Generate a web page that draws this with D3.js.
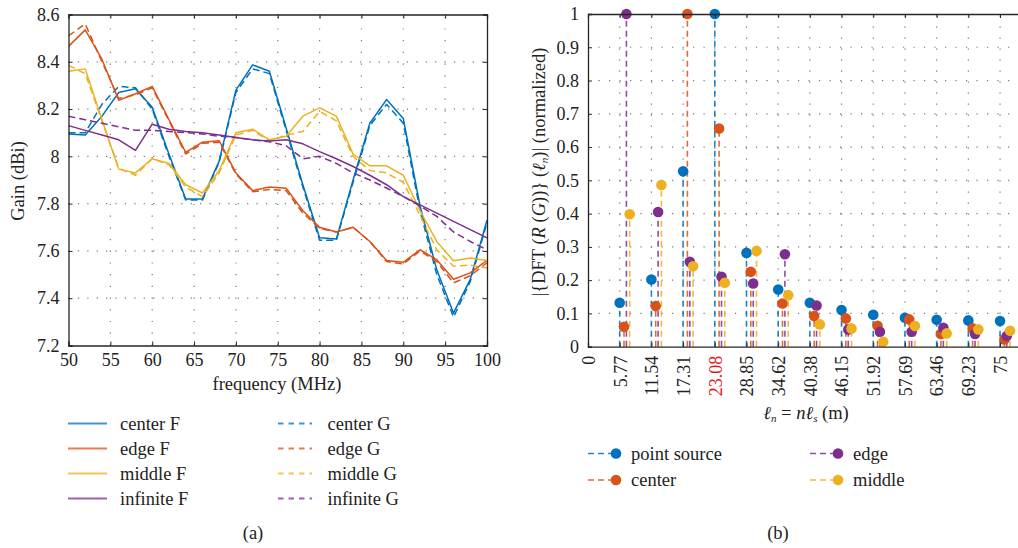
<!DOCTYPE html>
<html><head><meta charset="utf-8">
<script src="https://cdn.jsdelivr.net/npm/d3@7"></script>
<style>
body{margin:0;background:#fff;}
svg{display:block;}
svg text{font-family:"Liberation Serif","DejaVu Serif",serif;}
</style></head>
<body>
<svg id="c" width="1018" height="548"></svg>
<script>
// ---------- data: panel (a) ----------
const freq = [50,52,54,56,58,60,62,64,66,68,70,72,74,76,78,80,82,84,86,88,90,92,94,96,98,100];
const centerF = [8.095,8.09,8.17,8.27,8.286,8.208,8.01,7.82,7.82,7.98,8.28,8.387,8.36,8.12,7.88,7.656,7.65,7.90,8.14,8.24,8.16,7.79,7.52,7.337,7.48,7.73];
const centerG = [8.10,8.10,8.22,8.296,8.29,8.20,8.00,7.815,7.815,7.975,8.27,8.37,8.35,8.11,7.87,7.645,7.645,7.89,8.13,8.22,8.14,7.77,7.50,7.32,7.47,7.72];
const edgeF = [8.465,8.535,8.41,8.237,8.265,8.296,8.156,8.017,8.06,8.066,7.93,7.855,7.87,7.865,7.77,7.70,7.68,7.70,7.64,7.56,7.552,7.605,7.563,7.48,7.507,7.56];
const edgeG = [8.51,8.56,8.40,8.245,8.26,8.29,8.15,8.01,8.055,8.06,7.925,7.85,7.86,7.855,7.76,7.695,7.68,7.70,7.64,7.555,7.545,7.60,7.555,7.465,7.495,7.55];
const middleF = [8.36,8.37,8.155,7.946,7.93,7.99,7.97,7.88,7.845,7.94,8.10,8.115,8.07,8.085,8.17,8.205,8.17,8.01,7.96,7.96,7.92,7.77,7.64,7.558,7.57,7.56];
const middleG = [8.385,8.35,8.15,7.95,7.92,7.99,7.965,7.87,7.83,7.93,8.09,8.11,8.065,8.09,8.105,8.19,8.15,8.00,7.94,7.93,7.89,7.75,7.605,7.535,7.54,7.528];
const infiniteF = [8.13,8.11,8.09,8.07,8.025,8.136,8.115,8.105,8.10,8.09,8.08,8.07,8.065,8.07,8.053,8.02,7.99,7.957,7.92,7.88,7.83,7.795,7.76,7.725,7.69,7.655];
const infiniteG = [8.17,8.155,8.14,8.125,8.11,8.11,8.105,8.10,8.095,8.085,8.08,8.07,8.062,8.045,7.99,8.0,7.97,7.93,7.90,7.866,7.83,7.79,7.746,7.68,7.64,7.605];
const gainTicksX = [50,55,60,65,70,75,80,85,90,95,100];
const gainTicksY = [7.2,7.4,7.6,7.8,8,8.2,8.4,8.6];

// ---------- data: panel (b) ----------
const lengths = [5.77,11.54,17.31,23.08,28.85,34.62,40.38,46.15,51.92,57.69,63.46,69.23,75];
const lengthTickLabels = ["0","5.77","11.54","17.31","23.08","28.85","34.62","40.38","46.15","51.92","57.69","63.46","69.23","75"];
const pointSource = [0.132,0.202,0.527,1.0,0.282,0.172,0.132,0.110,0.096,0.087,0.081,0.079,0.077];
const centerB = [0.06,0.122,1.0,0.656,0.225,0.13,0.092,0.085,0.063,0.082,0.038,0.055,0.022];
const edgeB = [1.0,0.405,0.255,0.21,0.19,0.278,0.124,0.052,0.045,0.045,0.057,0.038,0.032];
const middleB = [0.398,0.486,0.242,0.192,0.288,0.155,0.067,0.055,0.015,0.062,0.04,0.052,0.048];
const seriesShift = [0,0.78,1.22,1.82]; // small ℓ offsets of each series
const normTicks = [0,0.1,0.2,0.3,0.4,0.5,0.6,0.7,0.8,0.9,1];

const C = {blue:"#0072BD", red:"#D95319", yellow:"#EDB120", purple:"#7E2F8E"};
const FONT = "Liberation Serif";
const svg = d3.select("#c");
const axisCol = "#262626", gridCol = "#777", textCol = "#222";

// ================= Panel (a) =================
const xa = d3.scaleLinear().domain([50,100]).range([68.5,487]);
const ya = d3.scaleLinear().domain([7.2,8.6]).range([345.5,14.5]);
const ga = svg.append("g");

ga.selectAll(".gx").data(gainTicksX.slice(1,-1)).join("line")
  .attr("x1",d=>xa(d)).attr("x2",d=>xa(d)).attr("y1",ya(7.2)).attr("y2",ya(8.6))
  .attr("stroke",gridCol).attr("stroke-width",1.2).attr("stroke-dasharray","1.2,10.5");
ga.selectAll(".gy").data(gainTicksY.slice(1,-1)).join("line")
  .attr("y1",d=>ya(d)).attr("y2",d=>ya(d)).attr("x1",xa(50)).attr("x2",xa(100))
  .attr("stroke",gridCol).attr("stroke-width",1.2).attr("stroke-dasharray","1.2,8.2");

const lineA = d3.line().x((d,i)=>xa(freq[i])).y(d=>ya(d));
const seriesA = [
  {v:centerF,c:C.blue,d:null,n:"center F"},{v:centerG,c:C.blue,d:"7,4",n:"center G"},
  {v:edgeF,c:C.red,d:null,n:"edge F"},{v:edgeG,c:C.red,d:"7,4",n:"edge G"},
  {v:middleF,c:C.yellow,d:null,n:"middle F"},{v:middleG,c:C.yellow,d:"7,4",n:"middle G"},
  {v:infiniteF,c:C.purple,d:null,n:"infinite F"},{v:infiniteG,c:C.purple,d:"7,4",n:"infinite G"}];
svg.append("clipPath").attr("id","ca").append("rect")
  .attr("x",xa(50)).attr("y",0).attr("width",xa(100)-xa(50)).attr("height",ya(7.2));
const la = ga.append("g").attr("clip-path","url(#ca)");
seriesA.forEach(s=>{
  la.append("path").attr("d",lineA(s.v)).attr("fill","none").attr("stroke",s.c)
    .attr("stroke-width",1.5).attr("stroke-dasharray",s.d).attr("stroke-linejoin","round");
});

const axL = d3.axisLeft(ya).tickValues(gainTicksY).tickSize(-4).tickPadding(9).tickFormat(d=>d3.format("")(+d.toFixed(1)));
const axB = d3.axisBottom(xa).tickValues(gainTicksX).tickSize(-4).tickPadding(8);
const axT = d3.axisTop(xa).tickValues(gainTicksX).tickSize(-4).tickFormat("");
const axR = d3.axisRight(ya).tickValues(gainTicksY).tickSize(-4).tickFormat("");
function styleAxis(g){
  g.attr("font-family",FONT).attr("font-size",18);
  g.select(".domain").attr("stroke",axisCol).attr("stroke-width",1.3);
  g.selectAll(".tick line").attr("stroke",axisCol);
  g.selectAll(".tick text").attr("fill",textCol);
}
ga.append("g").attr("transform",`translate(${xa(50)},0)`).call(axL).call(styleAxis);
ga.append("g").attr("transform",`translate(0,${ya(7.2)})`).call(axB).call(styleAxis);
ga.append("g").attr("transform",`translate(0,${ya(8.6)})`).call(axT).call(styleAxis);
ga.append("g").attr("transform",`translate(${xa(100)},0)`).call(axR).call(styleAxis);

ga.append("text").attr("transform","translate(24,181) rotate(-90)").attr("text-anchor","middle")
  .attr("font-family",FONT).attr("font-size",18.5).attr("fill",textCol).text("Gain (dBi)");
ga.append("text").attr("x",277).attr("y",390).attr("text-anchor","middle")
  .attr("font-family",FONT).attr("font-size",18.5).attr("fill",textCol).text("frequency (MHz)");

const legA = ga.append("g");
seriesA.forEach((s,i)=>{
  const col = i%2, row = Math.floor(i/2);
  const lx = col===0?68:278, tx = col===0?120:327.5, yy = 423.5+row*25;
  legA.append("line").attr("x1",lx).attr("x2",lx+(col===0?39:34)).attr("y1",yy).attr("y2",yy)
    .attr("stroke",s.c).attr("stroke-width",2).attr("opacity",0.75).attr("stroke-dasharray",s.d?"5.5,5":null);
  legA.append("text").attr("x",tx).attr("y",yy+6).attr("font-family",FONT).attr("font-size",18.5)
    .attr("fill",textCol).text(s.n);
});
ga.append("text").attr("x",253).attr("y",539).attr("text-anchor","middle").attr("font-family",FONT)
  .attr("font-size",18.5).attr("fill",textCol).text("(a)");

// ================= Panel (b) =================
const xb = d3.scaleLinear().domain([0,78.6]).range([588,588+78.6*31.7/5.77]);
const yb = d3.scaleLinear().domain([0,1]).range([346.7,14]);
const gb = svg.append("g");
const tickPos = [0].concat(lengths);

gb.selectAll(".gx").data(lengths).join("line")
  .attr("x1",d=>xb(d)).attr("x2",d=>xb(d)).attr("y1",yb(0)).attr("y2",yb(1))
  .attr("stroke",gridCol).attr("stroke-width",1.2).attr("stroke-dasharray","1.2,9.8");
gb.selectAll(".gy").data(normTicks.slice(1,-1)).join("line")
  .attr("y1",d=>yb(d)).attr("y2",d=>yb(d)).attr("x1",xb(0)).attr("x2",1018)
  .attr("stroke",gridCol).attr("stroke-width",1.2).attr("stroke-dasharray","1.2,9.3");

const seriesB = [
  {v:pointSource,c:C.blue,n:"point source"},{v:centerB,c:C.red,n:"center"},
  {v:edgeB,c:C.purple,n:"edge"},{v:middleB,c:C.yellow,n:"middle"}];
seriesB.forEach((s,k)=>{
  gb.append("g").selectAll("line").data(s.v).join("line")
    .attr("x1",(d,i)=>xb(lengths[i]+seriesShift[k])).attr("x2",(d,i)=>xb(lengths[i]+seriesShift[k]))
    .attr("y1",yb(0)).attr("y2",d=>yb(d))
    .attr("stroke",s.c).attr("stroke-width",1.6).attr("opacity",0.85).attr("stroke-dasharray","6,4");
});
seriesB.forEach((s,k)=>{
  gb.append("g").selectAll("circle").data(s.v).join("circle")
    .attr("cx",(d,i)=>xb(lengths[i]+seriesShift[k])).attr("cy",d=>yb(d)).attr("r",5.3).attr("fill",s.c);
});

const bL = d3.axisLeft(yb).tickValues(normTicks).tickSize(-4).tickPadding(9).tickFormat(d=>d3.format("")(+d.toFixed(1)));
const bB = d3.axisBottom(xb).tickValues(tickPos).tickSize(-4).tickFormat((d,i)=>lengthTickLabels[i]);
const bT = d3.axisTop(xb).tickValues(tickPos).tickSize(-4).tickFormat("");
gb.append("g").attr("transform",`translate(${xb(0)},0)`).call(bL).call(styleAxis);
const gbb = gb.append("g").attr("transform",`translate(0,${yb(0)})`).call(bB).call(styleAxis);
gbb.selectAll(".tick text").attr("transform","rotate(-90)").attr("text-anchor","end")
  .attr("x",-9).attr("y",0).attr("dy","0.35em")
  .attr("fill",(d,i)=>lengthTickLabels[i]==="23.08"?"#e8141b":textCol);
gb.append("g").attr("transform",`translate(0,${yb(1)})`).call(bT).call(styleAxis);

const yl = gb.append("text").attr("transform","translate(545,172) rotate(-90)").attr("text-anchor","middle")
  .attr("font-family",FONT).attr("font-size",18.5).attr("fill",textCol);
yl.append("tspan").text("|{DFT (");
yl.append("tspan").attr("font-style","italic").text("R");
yl.append("tspan").text(" (");
yl.append("tspan").attr("font-style","italic").text("G");
yl.append("tspan").text("))} (");
yl.append("tspan").attr("font-style","italic").text("ℓ");
yl.append("tspan").attr("font-style","italic").attr("font-size",11).attr("dy",3).text("n");
yl.append("tspan").attr("dy",-3).text(")| (normalized)");

const xl = gb.append("text").attr("x",806).attr("y",419).attr("text-anchor","middle")
  .attr("font-family",FONT).attr("font-size",18.5).attr("fill",textCol);
xl.append("tspan").attr("font-style","italic").text("ℓ");
xl.append("tspan").attr("font-style","italic").attr("font-size",11).attr("dy",3).text("n");
xl.append("tspan").attr("dy",-3).text(" = ");
xl.append("tspan").attr("font-style","italic").text("nℓ");
xl.append("tspan").attr("font-style","italic").attr("font-size",11).attr("dy",3).text("s");
xl.append("tspan").attr("dy",-3).text(" (m)");

seriesB.forEach((s,k)=>{
  const col = k===0||k===1?0:1;
  const row = (k===0||k===2)?0:1;
  const lx = col===0?588:810, yy = 453.5+row*26.5;
  gb.append("line").attr("x1",lx).attr("x2",lx+23).attr("y1",yy).attr("y2",yy)
    .attr("stroke",s.c).attr("stroke-width",1.6).attr("opacity",0.85).attr("stroke-dasharray","6,4");
  gb.append("circle").attr("cx",lx+28).attr("cy",yy).attr("r",5.3).attr("fill",s.c);
  gb.append("text").attr("x",lx+43).attr("y",yy+6).attr("font-family",FONT).attr("font-size",18.5)
    .attr("fill",textCol).text(s.n);
});
gb.append("text").attr("x",778).attr("y",539).attr("text-anchor","middle").attr("font-family",FONT)
  .attr("font-size",18.5).attr("fill",textCol).text("(b)");
</script>
</body></html>
